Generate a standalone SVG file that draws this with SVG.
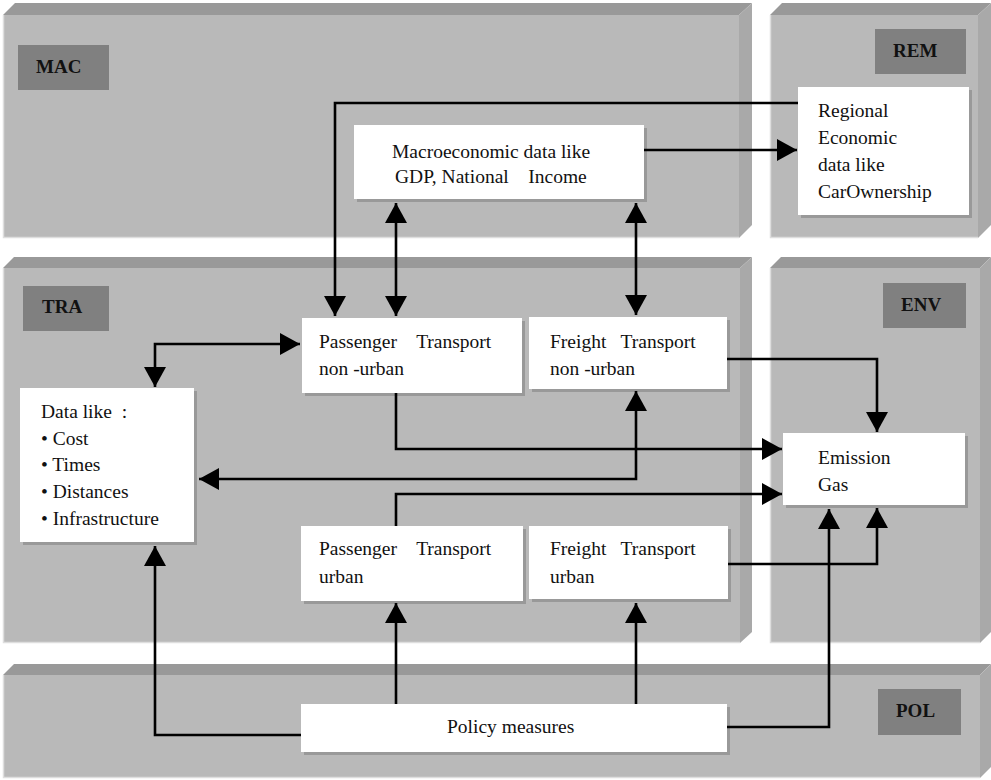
<svg xmlns="http://www.w3.org/2000/svg" width="991" height="780" viewBox="0 0 991 780">
<style>
.face{fill:#b9b9b9}
.top{fill:#999999}
.side{fill:#a9a9a9}
.edge{stroke:#dedede;stroke-width:1.5;fill:none}
.lab{fill:#808080}
.labt{font-family:"Liberation Serif",serif;font-weight:bold;font-size:19px;fill:#111}
.box{fill:#ffffff}
.shadow{fill:#999999}
.t{font-family:"Liberation Serif",serif;font-size:19.5px;fill:#111}
.con{fill:none;stroke:#000;stroke-width:2.6}
</style>
<defs>
<marker id="ah" markerUnits="userSpaceOnUse" markerWidth="22" markerHeight="24" refX="20" refY="11" orient="auto-start-reverse" viewBox="0 0 22 22">
<path d="M0,0 L20,11 L0,22 Z" fill="#000"/>
</marker>
</defs>
<rect width="991" height="780" fill="#ffffff"/>

<g id="MAC">
<rect class="face" x="3" y="15" width="736" height="223"/>
<polygon class="top" points="3,15 15,3 752,3 739,15"/>
<polygon class="side" points="739,15 752,3 752,225 739,238"/>
<path class="edge" d="M3.5,15 V237.5 H739"/>
<rect class="lab" x="18" y="45" width="91" height="45"/>
<text class="labt" x="36" y="73">MAC</text>
</g>
<g id="REM">
<rect class="face" x="770" y="15" width="208" height="223"/>
<polygon class="top" points="770,15 782,3 991,3 978,15"/>
<polygon class="side" points="978,15 991,3 991,225 978,238"/>
<path class="edge" d="M770.5,15 V237.5 H978"/>
<rect class="lab" x="875" y="29" width="91" height="45"/>
<text class="labt" x="893" y="57">REM</text>
</g>
<g id="TRA">
<rect class="face" x="3" y="268" width="737" height="375"/>
<polygon class="top" points="3,268 14,257 752,257 740,268"/>
<polygon class="side" points="740,268 752,257 752,632 740,643"/>
<path class="edge" d="M3.5,268 V642.5 H740"/>
<rect class="lab" x="23" y="286" width="86" height="45"/>
<text class="labt" x="42" y="313">TRA</text>
</g>
<g id="ENV">
<rect class="face" x="770" y="268" width="210" height="375"/>
<polygon class="top" points="770,268 781,257 991,257 980,268"/>
<polygon class="side" points="980,268 991,257 991,632 980,643"/>
<path class="edge" d="M770.5,268 V642.5 H980"/>
<rect class="lab" x="883" y="283" width="83" height="45"/>
<text class="labt" x="901" y="311">ENV</text>
</g>
<g id="POL">
<rect class="face" x="3" y="675" width="977" height="103"/>
<polygon class="top" points="3,675 14,664 991,664 980,675"/>
<polygon class="side" points="980,675 991,664 991,767 980,778"/>
<path class="edge" d="M3.5,675 V777.5 H980"/>
<rect class="lab" x="878" y="689" width="83" height="46"/>
<text class="labt" x="896" y="717">POL</text>
</g>

<g id="macro">
<rect class="shadow" x="357" y="128" width="290" height="74"/>
<rect class="box" x="354" y="125" width="290" height="74"/>
<text class="t" x="392" y="158">Macroeconomic data like</text>
<text class="t" x="395" y="183" xml:space="preserve">GDP, National    Income</text>
</g>
<g id="regional">
<rect class="shadow" x="801" y="90" width="171" height="128"/>
<rect class="box" x="798" y="87" width="171" height="128"/>
<text class="t" x="818" y="117">Regional</text>
<text class="t" x="818" y="144">Economic</text>
<text class="t" x="818" y="171">data like</text>
<text class="t" x="818" y="198">CarOwnership</text>
</g>
<g id="pass-nonurban">
<rect class="shadow" x="305" y="321" width="220" height="75"/>
<rect class="box" x="302" y="318" width="220" height="75"/>
<text class="t" x="319" y="348" xml:space="preserve">Passenger    Transport</text>
<text class="t" x="319" y="375">non -urban</text>
</g>
<g id="freight-nonurban">
<rect class="shadow" x="532" y="320" width="198" height="72"/>
<rect class="box" x="529" y="317" width="198" height="72"/>
<text class="t" x="550" y="348" xml:space="preserve">Freight   Transport</text>
<text class="t" x="550" y="375">non -urban</text>
</g>
<g id="data">
<rect class="shadow" x="23" y="391" width="174" height="154"/>
<rect class="box" x="20" y="388" width="174" height="154"/>
<text class="t" x="41" y="418" xml:space="preserve">Data like  :</text>
<text class="t" x="41" y="445">• Cost</text>
<text class="t" x="41" y="471">• Times</text>
<text class="t" x="41" y="498">• Distances</text>
<text class="t" x="41" y="525">• Infrastructure</text>
</g>
<g id="pass-urban">
<rect class="shadow" x="304" y="529" width="222" height="75"/>
<rect class="box" x="301" y="526" width="222" height="75"/>
<text class="t" x="319" y="555" xml:space="preserve">Passenger    Transport</text>
<text class="t" x="319" y="583">urban</text>
</g>
<g id="freight-urban">
<rect class="shadow" x="532" y="529" width="199" height="73"/>
<rect class="box" x="529" y="526" width="199" height="73"/>
<text class="t" x="550" y="555" xml:space="preserve">Freight   Transport</text>
<text class="t" x="550" y="583">urban</text>
</g>
<g id="emission">
<rect class="shadow" x="786" y="436" width="182" height="72"/>
<rect class="box" x="783" y="433" width="182" height="72"/>
<text class="t" x="818" y="464">Emission</text>
<text class="t" x="818" y="491">Gas</text>
</g>
<g id="policy">
<rect class="shadow" x="304" y="707" width="426" height="48"/>
<rect class="box" x="301" y="704" width="426" height="48"/>
<text class="t" x="447" y="733">Policy measures</text>
</g>

<g id="connectors">
<path class="con" d="M798,103 H335 V316" marker-end="url(#ah)"/>
<path class="con" d="M644,150 H797" marker-end="url(#ah)"/>
<path class="con" d="M396,203 V316" marker-start="url(#ah)" marker-end="url(#ah)"/>
<path class="con" d="M636,203 V315" marker-start="url(#ah)" marker-end="url(#ah)"/>
<path class="con" d="M155,387 V344 H300" marker-start="url(#ah)" marker-end="url(#ah)"/>
<path class="con" d="M727,359 H877 V432" marker-end="url(#ah)"/>
<path class="con" d="M396,393 V449 H782" marker-end="url(#ah)"/>
<path class="con" d="M199,479 H636 V391" marker-start="url(#ah)" marker-end="url(#ah)"/>
<path class="con" d="M396,526 V494 H782" marker-end="url(#ah)"/>
<path class="con" d="M728,564 H877 V508" marker-end="url(#ah)"/>
<path class="con" d="M727,727 H829 V509" marker-end="url(#ah)"/>
<path class="con" d="M396,704 V603" marker-end="url(#ah)"/>
<path class="con" d="M636,704 V603" marker-end="url(#ah)"/>
<path class="con" d="M301,735 H155 V546" marker-end="url(#ah)"/>
</g>
</svg>
